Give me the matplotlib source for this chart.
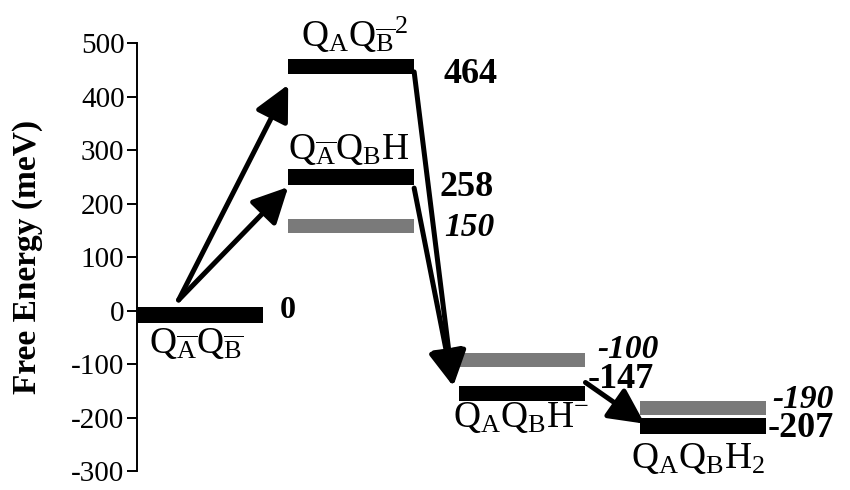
import matplotlib
matplotlib.use("Agg")
import matplotlib.pyplot as plt

# free energy levels (meV) of the quinone states
state_labels = [
    r"$\mathrm{Q_{\overline{A}}Q_{\overline{B}}}$",
    r"$\mathrm{Q_AQ_{\overline{B}}{}^{2}}$",
    r"$\mathrm{Q_{\overline{A}}Q_BH}$",
    r"$\mathrm{Q_AQ_BH^{-}}$",
    r"$\mathrm{Q_AQ_BH_2}$",
]
energies = [0, 464, 258, -147, -207]
# alternative estimates drawn as grey levels
alt_energies = [150, -100, -190]
y_ticks = [-300, -200, -100, 0, 100, 200, 300, 400, 500]

plt.rcParams["font.family"] = ["Liberation Serif", "DejaVu Serif"]
plt.rcParams["mathtext.fontset"] = "custom"
plt.rcParams["mathtext.rm"] = "Liberation Serif"
plt.rcParams["mathtext.it"] = "Liberation Serif:italic"
plt.rcParams["mathtext.bf"] = "Liberation Serif:bold"
plt.rcParams["axes.unicode_minus"] = False

fig = plt.figure(figsize=(8.5, 4.9), dpi=100)
ax = fig.add_axes([0.1612, 0.038, 0.8388, 0.8743])

# column (left edge) of each state, bar width is one unit
state_left = [0.0, 1.2, 1.2, 2.56, 3.99]
alt_left = [1.2, 2.56, 3.99]
bar_w = 1.0
bar_h = 29
shift = -8

ax.barh([e + shift for e in energies], bar_w, left=state_left, height=bar_h,
        color="black", zorder=3)
ax.barh([e + 8 for e in alt_energies], bar_w, left=alt_left, height=26,
        color="#7a7a7a", zorder=2)

arrow_kw = dict(arrowstyle="-|>,head_length=0.9,head_width=0.45", lw=3.6,
                color="black", shrinkA=0, shrinkB=0, mutation_scale=24)


def link(x0, y0, x1, y1):
    ax.annotate("", xy=(x1, y1), xytext=(x0, y0), arrowprops=arrow_kw, zorder=4)


# excitation from the ground state
link(state_left[0] + 0.33, energies[0] + 20, state_left[1], energies[1] - 42)
link(state_left[0] + 0.33, energies[0] + 20, state_left[2], energies[2] - 27)
# relaxation down to the protonated states
link(state_left[1] + bar_w, energies[1] - 18, state_left[3] - 0.05, energies[3] + 6)
link(state_left[2] + bar_w, energies[2] - 29, state_left[3] - 0.05, energies[3] + 6)
link(state_left[3] + bar_w, energies[3] + 13, state_left[4] + 0.04, energies[4] - 4)

# state names
name_pos = [(0.47, -28, "top"), (1.73, 478, "bottom"), (1.68, 268, "bottom"),
            (3.05, -166, "top"), (4.45, -244, "top")]
for lab, (x, y, va) in zip(state_labels, name_pos):
    ax.text(x, y, lab, ha="center", va=va, fontsize=27)

# energy values next to the bars
val_pos = [(0.13, 0), (0.23, -22), (0.2, -27), (0.02, 19), (0.02, -13)]
for e, left, (dx, dy) in zip(energies, state_left, val_pos):
    ax.text(left + bar_w + dx, e + dy, f"{e}", ha="left", va="center",
            fontsize=23 if e == 0 else 26, fontweight="bold")
alt_pos = [(0.24, 6), (0.09, 28), (0.05, 25)]
for e, left, (dx, dy) in zip(alt_energies, alt_left, alt_pos):
    ax.text(left + bar_w + dx, e + dy, f"{e}", ha="left", va="center",
            fontsize=24, fontweight="bold", style="italic")

ax.set_xlim(0, 5.66)
ax.set_ylim(-300, 500)
ax.set_yticks(y_ticks)
ax.tick_params(axis="y", direction="out", length=7, width=1.4, labelsize=21, pad=2)
ax.set_xticks([])
for side in ["top", "right", "bottom"]:
    ax.spines[side].set_visible(False)
ax.spines["left"].set_linewidth(1.4)
ax.set_ylabel("Free Energy (meV)", fontsize=24, fontweight="bold")
ax.yaxis.set_label_coords(-0.132, 0.5)
ax.patch.set_visible(False)

fig.savefig("out.png", dpi=100)
